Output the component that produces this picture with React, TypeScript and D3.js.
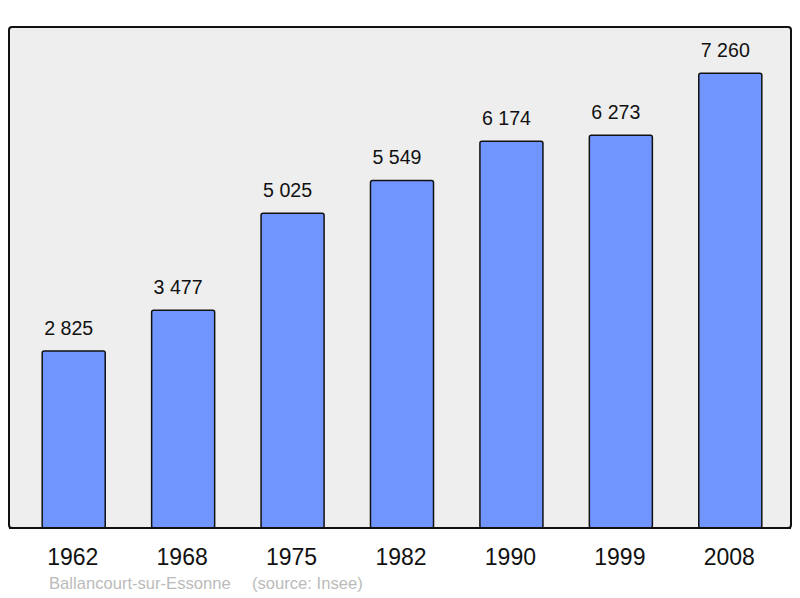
import React from 'react';
import * as d3 from 'd3';

// population by census year
const years = ['1962', '1968', '1975', '1982', '1990', '1999', '2008'];
const population = [2825, 3477, 5025, 5549, 6174, 6273, 7260];
const valueLabels = ['2 825', '3 477', '5 025', '5 549', '6 174', '6 273', '7 260'];
const commune = 'Ballancourt-sur-Essonne';
const source = '(source: Insee)';

const W = 800;
const H = 598;
const frame = {left: 9, top: 27, right: 791, bottom: 528};

export default function App() {
    const x = d3.scaleBand<string>()
        .domain(years)
        .range([19, 785])
        .paddingInner(0.424)
        .paddingOuter(0.212);

    const y = d3.scaleLinear()
        .domain([0, 8000])
        .range([frame.bottom, frame.top]);

    const font = '"Liberation Sans", Arial, sans-serif';

    return (
        <svg width={W} height={H} style={{position: 'absolute', left: 0, top: 0}}>
            <rect x={frame.left} y={frame.top}
                width={frame.right - frame.left} height={frame.bottom - frame.top}
                rx={3} ry={3}
                fill="#eeeeee" stroke="#111" strokeWidth={2} />
            {years.map((yr, i) => (
                <g key={yr}>
                    <rect x={x(yr)} y={y(population[i])}
                        width={x.bandwidth()} height={y(0) - y(population[i])}
                        rx={2} ry={2}
                        fill="#7195ff" stroke="#111" strokeWidth={1.5} />
                    {/* value labels sit a little left of the bar centre in the original */}
                    <text x={x(yr)! + x.bandwidth() / 2 - 5} y={y(population[i]) - 16}
                        textAnchor="middle" fontFamily={font} fontSize={19.6} fill="#111">
                        {valueLabels[i]}
                    </text>
                    <text x={x(yr)! + x.bandwidth() / 2 - 1} y={565}
                        textAnchor="middle" fontFamily={font} fontSize={23} fill="#111">
                        {yr}
                    </text>
                </g>
            ))}
            {/* redraw bottom edge over the bars */}
            <line x1={frame.left} x2={frame.right} y1={frame.bottom} y2={frame.bottom}
                stroke="#111" strokeWidth={2} />
            <text x={49} y={589} fontFamily={font} fontSize={16.6} fill="#bbbbbb">{commune}</text>
            <text x={252} y={589} fontFamily={font} fontSize={16.6} fill="#bbbbbb">{source}</text>
        </svg>
    );
}
